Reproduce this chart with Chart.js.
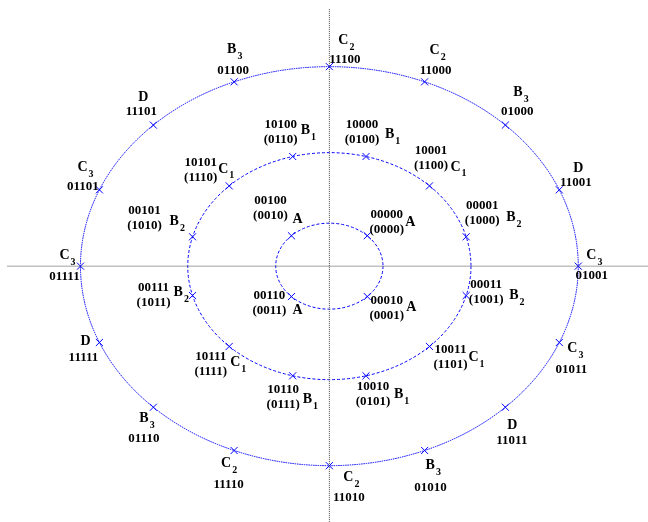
<!DOCTYPE html>
<html>
<head>
<meta charset="utf-8">
<script src="https://cdn.jsdelivr.net/npm/chart.js@4"></script>
<style>
  html, body { margin: 0; padding: 0; background: #fff; }
  canvas { display: block; }
</style>
</head>
<body>
<canvas id="apsk" width="648" height="522"></canvas>
<script>
// ring radii (inner, middle, outer)
const radii = [1, 2.64, 4.64];

// inner ring: 4 points
const innerAngles = [45, 135, 225, 315];
const innerClass = ['A', 'A', 'A', 'A'];
const innerBits = ['00000', '00100', '00110', '00010'];
const innerGray = ['(0000)', '(0010)', '(0011)', '(0001)'];

// middle ring: 12 points
const middleAngles = [15, 45, 75, 105, 135, 165, 195, 225, 255, 285, 315, 345];
const middleClass = ['B2', 'C1', 'B1', 'B1', 'C1', 'B2', 'B2', 'C1', 'B1', 'B1', 'C1', 'B2'];
const middleBits = ['00001', '10001', '10000', '10100', '10101', '00101', '00111', '10111', '10110', '10010', '10011', '00011'];
const middleGray = ['(1000)', '(1100)', '(0100)', '(0110)', '(1110)', '(1010)', '(1011)', '(1111)', '(0111)', '(0101)', '(1101)', '(1001)'];

// outer ring: 16 points
const outerAngles = [0, 22.5, 45, 67.5, 90, 112.5, 135, 157.5, 180, 202.5, 225, 247.5, 270, 292.5, 315, 337.5];
const outerClass = ['C3', 'D', 'B3', 'C2', 'C2', 'B3', 'D', 'C3', 'C3', 'D', 'B3', 'C2', 'C2', 'B3', 'D', 'C3'];
const outerBits = ['01001', '11001', '01000', '11000', '11100', '01100', '11101', '01101', '01111', '11111', '01110', '11110', '11010', '01010', '11011', '01011'];

// label placement in px from each marker: [code centre dx, code dy, letter dx, letter dy]
const innerPlace = [[19.5, -21, 38, -13], [-21, -35, 1, -16], [-22, -1, 1, 14], [19.5, 4, 39, 11]];
const middlePlace = [
  [16, -31, 40, -19], [1.5, -35, 21, -19], [-4, -32, 19, -22], [-12, -32, 8, -26],
  [-28.5, -23, -11, -17], [-48, -26, -23, -15], [-39, -8, -19, -3], [-18.5, 10, 1, 16],
  [-9.5, 14, 10, 24], [7, 11, 28, 19], [21, 3, 39, 11], [20, -11, 43, 0]
];
const outerPlace = [
  [13.5, 9, 8, -11], [16.5, -7, 14, -21], [12, -13, 8, -33], [11, -11, 5, -31],
  [15.5, -7, 9, -26], [-1, -11, -7, -32], [-12, -13, -15, -28], [-16.5, -3, -22, -22],
  [-16, 10, -21, -11], [-16, 15, -19, -1], [-9.5, 31, -14, 11], [-5.5, 34, -13, 13],
  [19.5, 32, 14, 12], [6, 37, 1, 15], [6.5, 33, 2, 18], [12, 27, 8, 6]
];

const BLUE = 'rgb(0,0,255)';
const rad = a => a * Math.PI / 180;
const polar = (r, angles) => angles.map(a => ({ x: r * Math.cos(rad(a)), y: r * Math.sin(rad(a)) }));

const rings = [
  { angles: innerAngles, cls: innerClass, bits: innerBits, gray: innerGray, place: innerPlace, dash: [3, 2] },
  { angles: middleAngles, cls: middleClass, bits: middleBits, gray: middleGray, place: middlePlace, dash: [3, 2] },
  { angles: outerAngles, cls: outerClass, bits: outerBits, gray: null, place: outerPlace, dash: [1.5, 0.8] }
];

// circles drawn through the scales, so they come out as ellipses like the points
const ringPlugin = {
  id: 'rings',
  beforeDatasetsDraw(chart) {
    const { ctx, scales: { x, y } } = chart;
    const cx = x.getPixelForValue(0), cy = y.getPixelForValue(0);
    ctx.save();
    ctx.strokeStyle = BLUE;
    ctx.lineWidth = 1;
    radii.forEach((r, i) => {
      const rx = x.getPixelForValue(r) - cx;
      const ry = cy - y.getPixelForValue(r);
      ctx.setLineDash(rings[i].dash);
      ctx.beginPath();
      ctx.ellipse(cx, cy, rx, ry, 0, 0, Math.PI * 2);
      ctx.stroke();
    });
    ctx.restore();
  }
};

const labelPlugin = {
  id: 'labels',
  afterDatasetsDraw(chart) {
    const ctx = chart.ctx;
    ctx.save();
    ctx.fillStyle = '#000';
    ctx.textBaseline = 'middle';
    rings.forEach((ring, ri) => {
      const meta = chart.getDatasetMeta(ri + 2);
      meta.data.forEach((pt, i) => {
        const [cdx, cdy, ldx, ldy] = ring.place[i];
        ctx.font = 'bold 13px "Liberation Serif", serif';
        ctx.textAlign = 'center';
        ctx.fillText(ring.bits[i], pt.x + cdx, pt.y + cdy);
        if (ring.gray) ctx.fillText(ring.gray[i], pt.x + cdx, pt.y + cdy + 15);
        // class letter with subscript
        const name = ring.cls[i];
        ctx.textAlign = 'left';
        ctx.font = 'bold 14px "Liberation Serif", serif';
        ctx.fillText(name[0], pt.x + ldx, pt.y + ldy);
        if (name.length > 1) {
          const w = ctx.measureText(name[0]).width;
          ctx.font = 'bold 10px "Liberation Serif", serif';
          ctx.fillText(name.slice(1), pt.x + ldx + w + 1, pt.y + ldy + 7);
        }
      });
    });
    ctx.restore();
  }
};

const axisLine = pts => ({
  type: 'line',
  data: pts,
  showLine: true,
  pointRadius: 0,
  borderColor: '#444',
  borderWidth: 1,
  borderDash: [1, 1],
  fill: false
});

const markers = (r, ring) => ({
  type: 'scatter',
  data: polar(r, ring.angles),
  pointStyle: 'crossRot',
  pointRadius: 5,
  pointBorderWidth: 1,
  borderColor: BLUE,
  backgroundColor: BLUE
});

new Chart(document.getElementById('apsk'), {
  type: 'scatter',
  data: {
    datasets: [
      axisLine([{ x: -6, y: 0 }, { x: 6, y: 0 }]),
      axisLine([{ x: 0, y: -6 }, { x: 0, y: 6 }]),
      ...radii.map((r, i) => markers(r, rings[i]))
    ]
  },
  options: {
    responsive: false,
    animation: false,
    layout: { padding: 0, autoPadding: false },
    plugins: { legend: { display: false }, tooltip: { enabled: false } },
    scales: {
      x: { type: 'linear', min: -6.14, max: 5.94, display: false },
      y: { type: 'linear', min: -5.95, max: 6.19, display: false }
    }
  },
  plugins: [ringPlugin, labelPlugin]
});
</script>
</body>
</html>
